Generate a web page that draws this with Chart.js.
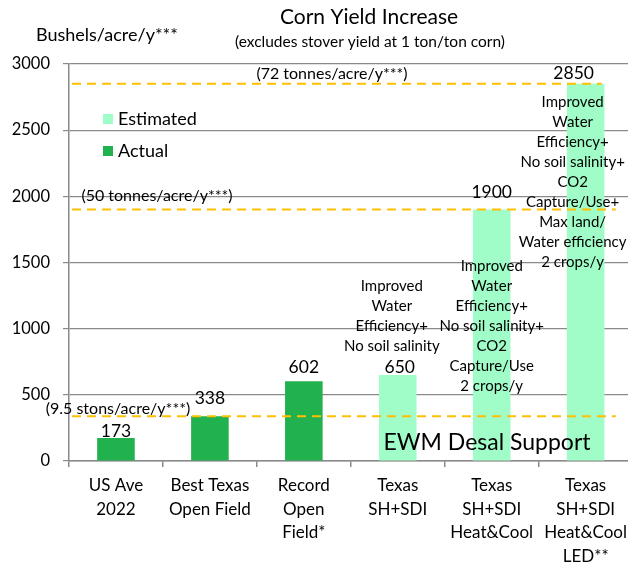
<!DOCTYPE html>
<html><head><meta charset="utf-8">
<script src="https://cdn.jsdelivr.net/npm/chart.js@4"></script>
<style>html,body{margin:0;padding:0;background:#fff;overflow:hidden}#wrap{width:634px;height:565px}</style>
</head><body><div id="wrap"><canvas id="c" width="634" height="565"></canvas></div>
<script>
const categories = [["US Ave","2022"],["Best Texas","Open Field"],["Record","Open","Field*"],["Texas","SH+SDI"],["Texas","SH+SDI","Heat&Cool"],["Texas","SH+SDI","Heat&Cool","LED**"]];
const actualValues = [173, 338, 602, null, null, null];
const estimatedValues = [null, null, null, 650, 1900, 2850];
const yTicks = [0, 500, 1000, 1500, 2000, 2500, 3000];
const refLevels = [338, 1900, 2850];
const refLabels = ["(9.5 stons/acre/y***)", "(50 tonnes/acre/y***)", "(72 tonnes/acre/y***)"];
const noteCategory = [3, 4, 5];
const noteTopValue = [1323, 1474, 2713];
const noteLines = [
  ["Improved","Water","Efficiency+","No soil salinity"],
  ["Improved","Water","Efficiency+","No soil salinity+","CO2","Capture/Use","2 crops/y"],
  ["Improved","Water","Efficiency+","No soil salinity+","CO2","Capture/Use+","Max land/","Water efficiency","2 crops/y"]
];
const titleText = "Corn Yield Increase";
const subtitleText = "(excludes stover yield at 1 ton/ton corn)";
const yAxisTitle = "Bushels/acre/y***";
const footerText = "EWM Desal Support";

const FONT = "Lato, 'Open Sans', sans-serif";
const DARK = "#21B14F", LIGHT = "#A0FDC8", ORANGE = "#FFC000", GRID = "#8a8a8a";

// label placement (pixel styling)
const valueLabelDy = [-7, -18, -14, -8, -17, -10];
const valueLabelDx = [0, 0, 0, 2, 0, -12];
const noteDx = [-6, 0, -13];

const overlay = {
  id: 'overlay',
  afterDatasetsDraw(chart) {
    const ctx = chart.ctx, x = chart.scales.x, y = chart.scales.y, ca = chart.chartArea;
    ctx.save();
    const lineEnds = [0.97, 0.97, 0.945];
    const labelX = [118, 157, 332];
    const labelDy = [-7, -14, -10];
    refLevels.forEach((v, i) => {
      const py = y.getPixelForValue(v);
      ctx.strokeStyle = ORANGE; ctx.lineWidth = 2; ctx.setLineDash([9, 6]);
      ctx.beginPath(); ctx.moveTo(ca.left + 3, py); ctx.lineTo(ca.left + (ca.right - ca.left) * lineEnds[i], py); ctx.stroke();
    });
    ctx.setLineDash([]);
    ctx.fillStyle = '#000'; ctx.textAlign = 'center'; ctx.textBaseline = 'middle';
    ctx.font = "16px " + FONT;
    refLevels.forEach((v, i) => {
      ctx.fillText(refLabels[i], labelX[i], y.getPixelForValue(v) + labelDy[i]);
    });
    ctx.font = "17.5px " + FONT;
    [actualValues, estimatedValues].forEach(arr => arr.forEach((v, i) => {
      if (v == null) return;
      ctx.fillText(String(v), x.getPixelForValue(i) + valueLabelDx[i], y.getPixelForValue(v) + valueLabelDy[i]);
    }));
    ctx.font = "15px " + FONT;
    noteLines.forEach((lines, k) => {
      const cx = x.getPixelForValue(noteCategory[k]) + noteDx[k];
      const top = y.getPixelForValue(noteTopValue[k]);
      lines.forEach((t, j) => ctx.fillText(t, cx, top + j * 20));
    });
    const items = [{label: chart.data.datasets[1].label, color: chart.data.datasets[1].backgroundColor},
                   {label: chart.data.datasets[0].label, color: chart.data.datasets[0].backgroundColor}];
    ctx.font = "18px " + FONT; ctx.textAlign = 'left';
    items.forEach((it, j) => {
      const cy = 119 + j * 32;
      ctx.fillStyle = it.color; ctx.fillRect(103, cy - 5, 10, 10);
      ctx.fillStyle = '#000'; ctx.fillText(it.label, 118, cy);
    });
    ctx.textAlign = 'center'; ctx.font = "23px " + FONT;
    ctx.fillText(footerText, 487, 443);
    ctx.font = "21px " + FONT; ctx.fillText(titleText, 369, 17);
    ctx.font = "15.5px " + FONT; ctx.fillText(subtitleText, 370, 42);
    ctx.font = "18px " + FONT; ctx.textAlign = 'left'; ctx.fillText(yAxisTitle, 36, 35);
    ctx.restore();
  }
};

new Chart(document.getElementById('c'), {
  type: 'bar',
  data: {
    labels: categories,
    datasets: [
      {label: 'Actual', data: actualValues, backgroundColor: DARK, barPercentage: 0.4, categoryPercentage: 1},
      {label: 'Estimated', data: estimatedValues, backgroundColor: LIGHT, barPercentage: 0.4, categoryPercentage: 1}
    ]
  },
  options: {
    responsive: false, animation: false, devicePixelRatio: 1,
    layout: {padding: {top: 64, right: 0, left: 0, bottom: 0}},
    plugins: {legend: {display: false}, tooltip: {enabled: false}, title: {display: false}},
    scales: {
      x: {
        stacked: true,
        grid: {offset: true, drawOnChartArea: false, drawTicks: true, tickLength: 6, color: GRID, lineWidth: 1.5},
        border: {display: true, color: GRID, width: 1.5},
        ticks: {color: '#000', font: {family: FONT, size: 17, lineHeight: 1.38}, padding: 7, maxRotation: 0, autoSkip: false},
        afterFit(s) { s.height = 104; }
      },
      y: {
        stacked: true, min: 0, max: 3000,
        afterBuildTicks(s) { s.ticks = yTicks.map(v => ({value: v})); },
        grid: {color: GRID, lineWidth: 1.2, tickLength: 6, drawTicks: true},
        border: {display: true, color: GRID, width: 1.5},
        ticks: {color: '#000', font: {family: FONT, size: 16.5}, padding: 13, callback: v => String(v)},
        afterFit(s) { s.width = 69; }
      }
    }
  },
  plugins: [overlay]
});
</script>
</body></html>
